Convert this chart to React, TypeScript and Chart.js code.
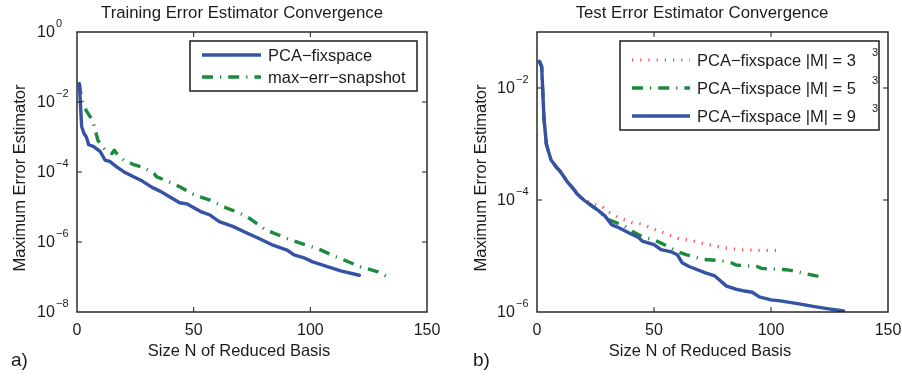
import React, { useEffect, useRef } from "react";
import { Chart, registerables } from "chart.js";

Chart.register(...registerables);

const FONT = '"Liberation Sans", Arial, Helvetica, sans-serif';
const INK = "#1c1c1c";
const BLUE = "#3553a5";
const GREEN = "#1b8a3c";
const RED = "#ff4a4a";

// ---------- axis ticks ----------
const xTickValues = [0, 50, 100, 150];
const trainYLabelExps = [0, -2, -4, -6, -8];
const trainYTickExps = [-2, -4, -6];
const testYLabelExps = [-2, -4, -6];
const testYTickExps = [-2, -4];

// ---------- a) Training error estimator ----------
const trainPcaN = [1, 2, 3, 4, 5, 7, 10, 12, 14, 17, 20, 24, 28, 32, 36, 40, 44, 47, 53, 57, 61, 67, 73, 78, 84, 90, 93, 97, 101, 107, 113, 121];
const trainPcaErr = [0.034, 0.002, 0.00126, 0.001, 6.0e-4, 5.4e-4, 3.8e-4, 2.2e-4, 2.0e-4, 1.4e-4, 1.02e-4, 7.4e-5, 5.5e-5, 3.7e-5, 2.75e-5, 1.9e-5, 1.32e-5, 1.23e-5, 7.4e-6, 5.9e-6, 3.8e-6, 2.75e-6, 1.78e-6, 1.26e-6, 8.1e-7, 5.9e-7, 4.3e-7, 3.6e-7, 2.7e-7, 2.0e-7, 1.5e-7, 1.12e-7];

const trainMaxErrN = [1, 2, 4, 6, 7, 9, 12, 15, 16, 17, 20, 24, 28, 33, 34, 40, 44, 51, 57, 63, 70, 74, 81, 90, 96, 103, 111, 121, 129, 133, 134];
const trainMaxErrErr = [0.034, 0.0115, 0.0056, 0.0035, 0.0025, 7.9e-4, 4.3e-4, 3.4e-4, 4.2e-4, 3.4e-4, 2.2e-4, 1.66e-4, 1.38e-4, 9.1e-5, 7.4e-5, 5.0e-5, 3.8e-5, 2.1e-5, 1.58e-5, 1.0e-5, 6.6e-6, 4.7e-6, 2.2e-6, 1.26e-6, 9.1e-7, 6.5e-7, 3.8e-7, 2.0e-7, 1.4e-7, 1.02e-7, 8.9e-8];

// ---------- b) Test error estimator ----------
const testM3N = [1, 2, 3, 4, 5, 6, 8, 10, 11, 13, 16, 17, 20, 25, 28, 30, 35, 41, 45, 51, 53, 61, 65, 70, 77, 81, 85, 88, 93, 95, 103];
const testM3Err = [0.030, 0.024, 0.0028, 1.0e-3, 7.1e-4, 5.2e-4, 4.0e-4, 3.2e-4, 2.8e-4, 2.1e-4, 1.5e-4, 1.3e-4, 1.0e-4, 8.3e-5, 7.6e-5, 6.3e-5, 4.8e-5, 3.9e-5, 3.7e-5, 2.9e-5, 2.7e-5, 2.0e-5, 1.95e-5, 1.7e-5, 1.48e-5, 1.38e-5, 1.32e-5, 1.29e-5, 1.26e-5, 1.26e-5, 1.26e-5];

const testM5N = [1, 2, 3, 4, 5, 6, 8, 10, 11, 13, 16, 17, 20, 23, 26, 29, 31, 37, 41, 45, 50, 53, 60, 64, 71, 78, 83, 85, 94, 96, 104, 108, 115, 122];
const testM5Err = [0.030, 0.024, 0.0028, 1.0e-3, 7.1e-4, 5.2e-4, 4.0e-4, 3.2e-4, 2.8e-4, 2.1e-4, 1.5e-4, 1.3e-4, 1.0e-4, 8.1e-5, 6.6e-5, 5.0e-5, 4.4e-5, 3.5e-5, 2.7e-5, 2.2e-5, 1.95e-5, 1.7e-5, 1.2e-5, 1.05e-5, 8.7e-6, 8.3e-6, 7.6e-6, 6.9e-6, 6.5e-6, 6.0e-6, 5.75e-6, 5.6e-6, 4.8e-6, 4.2e-6];

const testM9N = [1, 2, 3, 4, 5, 6, 8, 10, 11, 13, 16, 17, 20, 23, 26, 29, 32, 35, 40, 43, 45, 50, 53, 57, 60, 62, 65, 68, 72, 76, 81, 85, 88, 92, 95, 100, 104, 112, 118, 124, 131];
const testM9Err = [0.030, 0.024, 0.0028, 1.0e-3, 7.1e-4, 5.2e-4, 4.0e-4, 3.2e-4, 2.8e-4, 2.1e-4, 1.5e-4, 1.3e-4, 1.0e-4, 8.1e-5, 6.6e-5, 5.2e-5, 3.6e-5, 3.2e-5, 2.5e-5, 2.2e-5, 1.85e-5, 1.6e-5, 1.3e-5, 1.2e-5, 1.05e-5, 7.6e-6, 6.5e-6, 5.8e-6, 5.0e-6, 4.4e-6, 2.9e-6, 2.55e-6, 2.4e-6, 2.25e-6, 1.86e-6, 1.65e-6, 1.58e-6, 1.4e-6, 1.26e-6, 1.15e-6, 1.04e-6];

type Series = {
  label: string;
  n: number[];
  err: number[];
  color: string;
  width: number;
  dash: number[];
  cap: CanvasLineCap;
  order: number;
};

type Panel = {
  title: string;
  titleX: number;
  letter: string;
  letterX: number;
  xTitleX: number;
  yTitleX: number;
  yMin: number;
  yMax: number;
  yLabelExps: number[];
  yTickExps: number[];
  padLeft: number;
  padRight: number;
  legendBox: [number, number, number, number];
  legendRows: number[];
  legendLine: [number, number];
  legendTextX: number;
  legendSupX: number | null;
  series: Series[];
};

const DASHDOT = [11, 7, 1.2, 7];
const DOTTED = [1.2, 7];

const trainPanel: Panel = {
  title: "Training Error Estimator Convergence",
  titleX: 242,
  letter: "a)",
  letterX: 11,
  xTitleX: 239,
  yTitleX: 25,
  yMin: 1e-8,
  yMax: 1,
  yLabelExps: trainYLabelExps,
  yTickExps: trainYTickExps,
  padLeft: 77,
  padRight: 24,
  legendBox: [190, 41, 227, 50],
  legendRows: [55, 77],
  legendLine: [202, 261],
  legendTextX: 268,
  legendSupX: null,
  series: [
    { label: "PCA\u2212fixspace", n: trainPcaN, err: trainPcaErr, color: BLUE, width: 3.4, dash: [], cap: "round", order: 0 },
    { label: "max\u2212err\u2212snapshot", n: trainMaxErrN, err: trainMaxErrErr, color: GREEN, width: 3.4, dash: DASHDOT, cap: "butt", order: 1 },
  ],
};

const testPanel: Panel = {
  title: "Test Error Estimator Convergence",
  titleX: 251,
  letter: "b)",
  letterX: 22,
  xTitleX: 249,
  yTitleX: 35,
  yMin: 1e-6,
  yMax: 1e-1,
  yLabelExps: testYLabelExps,
  yTickExps: testYTickExps,
  padLeft: 86,
  padRight: 14,
  legendBox: [169, 41, 259, 89],
  legendRows: [60, 88, 116],
  legendLine: [181, 239],
  legendTextX: 246,
  legendSupX: 424,
  series: [
    { label: "PCA\u2212fixspace |M| = 3", n: testM3N, err: testM3Err, color: RED, width: 3.2, dash: DOTTED, cap: "butt", order: 2 },
    { label: "PCA\u2212fixspace |M| = 5", n: testM5N, err: testM5Err, color: GREEN, width: 3.4, dash: DASHDOT, cap: "butt", order: 1 },
    { label: "PCA\u2212fixspace |M| = 9", n: testM9N, err: testM9Err, color: BLUE, width: 3.4, dash: [], cap: "round", order: 0 },
  ],
};

function expText(e: number): string {
  return e === 0 ? "0" : "\u2212" + String(-e);
}

function makeDecor(p: Panel) {
  return {
    id: "decor",
    afterDraw(chart: any) {
      const ctx: CanvasRenderingContext2D = chart.ctx;
      const { left, right, top, bottom } = chart.chartArea;
      const xs = chart.scales.x;
      const ys = chart.scales.y;
      ctx.save();

      // frame
      ctx.strokeStyle = INK;
      ctx.lineWidth = 1.4;
      ctx.setLineDash([]);
      ctx.strokeRect(left, top, right - left, bottom - top);

      // tick marks (inward, all sides)
      ctx.lineWidth = 1;
      ctx.beginPath();
      for (const v of xTickValues) {
        const px = xs.getPixelForValue(v);
        if (px <= left + 1 || px >= right - 1) continue;
        ctx.moveTo(px, bottom);
        ctx.lineTo(px, bottom - 5);
        ctx.moveTo(px, top);
        ctx.lineTo(px, top + 5);
      }
      for (const e of p.yTickExps) {
        const py = ys.getPixelForValue(Math.pow(10, e));
        ctx.moveTo(left, py);
        ctx.lineTo(left + 5, py);
        ctx.moveTo(right, py);
        ctx.lineTo(right - 5, py);
      }
      ctx.stroke();

      ctx.fillStyle = INK;
      // x tick labels
      ctx.font = `16px ${FONT}`;
      ctx.textAlign = "center";
      ctx.textBaseline = "alphabetic";
      for (const v of xTickValues) {
        ctx.fillText(String(v), xs.getPixelForValue(v), 335);
      }
      // y tick labels 10^e
      for (const e of p.yLabelExps) {
        const py = ys.getPixelForValue(Math.pow(10, e));
        ctx.textAlign = "left";
        ctx.textBaseline = "middle";
        ctx.font = `16px ${FONT}`;
        ctx.fillText("10", left - 40, py + 1);
        ctx.font = `11px ${FONT}`;
        ctx.fillText(expText(e), left - 21, py - 8);
      }

      // titles
      ctx.textAlign = "center";
      ctx.textBaseline = "alphabetic";
      ctx.font = `16.8px ${FONT}`;
      ctx.fillText(p.title, p.titleX, 17.5);
      ctx.font = `16.5px ${FONT}`;
      ctx.fillText("Size N of Reduced Basis", p.xTitleX, 356);
      ctx.save();
      ctx.translate(p.yTitleX, 178);
      ctx.rotate(-Math.PI / 2);
      ctx.fillText("Maximum Error Estimator", 0, 0);
      ctx.restore();
      ctx.textAlign = "left";
      ctx.font = `19px ${FONT}`;
      ctx.fillText(p.letter, p.letterX, 366);

      // legend
      const [bx, by, bw, bh] = p.legendBox;
      ctx.fillStyle = "#ffffff";
      ctx.fillRect(bx, by, bw, bh);
      ctx.strokeStyle = INK;
      ctx.lineWidth = 1.5;
      ctx.strokeRect(bx, by, bw, bh);
      p.series.forEach((s, i) => {
        const ry = p.legendRows[i];
        ctx.save();
        ctx.strokeStyle = s.color;
        ctx.lineWidth = s.width;
        ctx.lineCap = s.cap === "round" ? "butt" : s.cap;
        ctx.setLineDash(s.dash);
        ctx.beginPath();
        ctx.moveTo(p.legendLine[0], ry);
        ctx.lineTo(p.legendLine[1], ry);
        ctx.stroke();
        ctx.restore();
        ctx.fillStyle = INK;
        ctx.font = `16.5px ${FONT}`;
        ctx.textAlign = "left";
        ctx.textBaseline = "middle";
        ctx.fillText(s.label, p.legendTextX, ry + 1);
        if (p.legendSupX !== null) {
          ctx.font = `11px ${FONT}`;
          ctx.textAlign = "center";
          ctx.fillText("3", p.legendSupX, ry - 7.5);
        }
      });
      ctx.restore();
    },
  };
}

function PanelChart({ panel, offset }: { panel: Panel; offset: number }) {
  const ref = useRef<HTMLCanvasElement | null>(null);
  useEffect(() => {
    if (!ref.current) return;
    const chart = new Chart(ref.current, {
      type: "line",
      data: {
        datasets: panel.series.map((s) => ({
          label: s.label,
          data: s.n.map((n, i) => ({ x: n, y: s.err[i] })),
          borderColor: s.color,
          backgroundColor: s.color,
          borderWidth: s.width,
          borderDash: s.dash,
          borderCapStyle: s.cap,
          borderJoinStyle: "round",
          pointRadius: 0,
          tension: 0,
          fill: false,
          order: s.order,
        })),
      },
      options: {
        animation: false,
        responsive: false,
        maintainAspectRatio: false,
        devicePixelRatio: 1,
        layout: { padding: { left: panel.padLeft, right: panel.padRight, top: 32, bottom: 64 } },
        scales: {
          x: { type: "linear", min: 0, max: 150, display: false },
          y: { type: "logarithmic", min: panel.yMin, max: panel.yMax, display: false },
        },
        plugins: {
          legend: { display: false },
          tooltip: { enabled: false },
          title: { display: false },
        },
      } as any,
      plugins: [makeDecor(panel)],
    } as any);
    return () => chart.destroy();
  }, [panel]);
  return (
    <canvas
      ref={ref}
      width={451}
      height={376}
      style={{ position: "absolute", left: offset, top: 0, width: 451, height: 376 }}
    />
  );
}

export default function App() {
  return (
    <div style={{ position: "fixed", left: 0, top: 0, width: 902, height: 376, background: "#ffffff" }}>
      <PanelChart panel={trainPanel} offset={0} />
      <PanelChart panel={testPanel} offset={451} />
    </div>
  );
}
